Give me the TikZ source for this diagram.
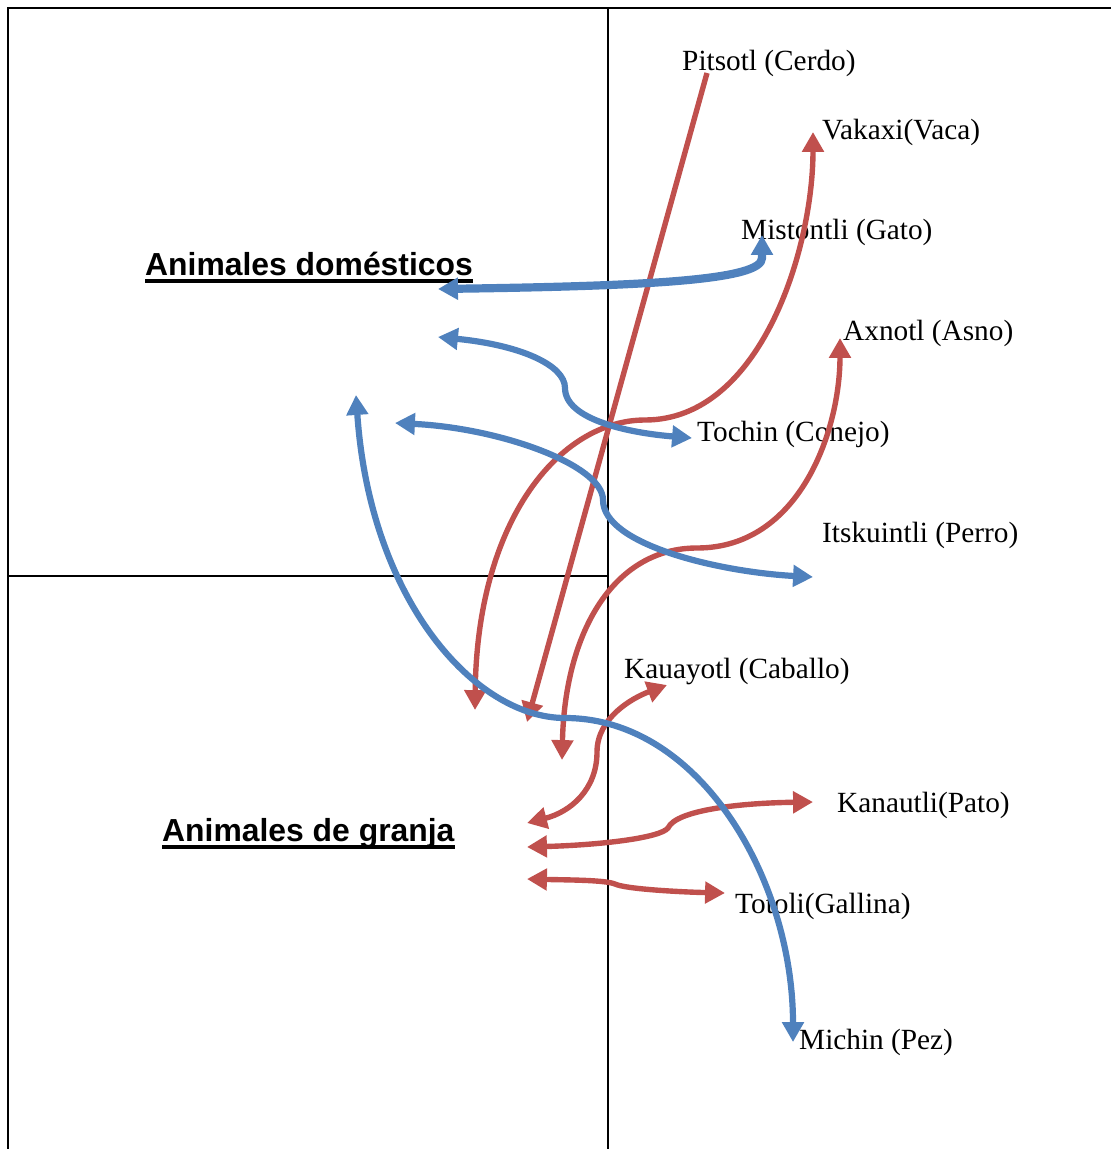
\documentclass[tikz,border=0pt]{standalone}
\usepackage{fontspec}
\setmainfont{Liberation Serif}
\newfontfamily\headfont{Liberation Sans}
\usetikzlibrary{arrows.meta}

\definecolor{farmred}{HTML}{C0504D}
\definecolor{homeblue}{HTML}{4F81BD}

\tikzset{
	lbl/.style={anchor=base west, inner sep=0pt, font=\fontsize{25pt}{30pt}\selectfont},
	head/.style={anchor=base west, inner sep=0pt, font=\headfont\bfseries\fontsize{27.2pt}{32pt}\selectfont},
	uline/.style={line width=3.4pt},
	grid/.style={line width=1.7pt},
	redarr/.style={draw=farmred, line width=4.6pt},
	bluearr/.style={draw=homeblue, line width=5.3pt}
}

\begin{document}
\begin{tikzpicture}
	[x=0.03cm,y=-0.03cm,>={Triangle[length=17pt,width=18pt]}]
	\useasboundingbox (0,0) rectangle (1111,1149);
	
	% table lines
	\draw[grid] (8,1149) -- (8,8) -- (1111,8);
	\draw[grid] (608,8) -- (608,1149);
	\draw[grid] (8,576) -- (608,576);
	
	\node[head] (dom) at (145,275) {Animales domésticos};
	\node[head] (granja) at (162,841) {Animales de granja};
	\foreach \h in {dom,granja}
		\draw[uline] ([yshift=-5pt]\h.base west) -- ([yshift=-5pt]\h.base east);
	
	\foreach \name/\x/\y/\txt in {cerdo/682/70/Pitsotl (Cerdo), vaca/822/139/Vakaxi(Vaca),
		gato/741/239/Mistontli (Gato), asno/843/340/Axnotl (Asno), conejo/697/441/Tochin (Conejo),
		perro/822/542/Itskuintli (Perro), caballo/624/678/Kauayotl (Caballo),
		pato/837/812/Kanautli(Pato), gallina/735/913/Totoli(Gallina), pez/799/1049/Michin (Pez)}
		\node[lbl] (\name) at (\x,\y) {\txt};
	
	% arrow ends
	\coordinate (cerdo1) at (707,73);   \coordinate (cerdo2) at (527,722);
	\coordinate (vaca1) at (813,132);   \coordinate (vaca2) at (475,710);
	\coordinate (asno1) at (840,338);   \coordinate (asno2) at (562,760);
	\coordinate (caballo1) at (667,685); \coordinate (caballo2) at (527,823);
	\coordinate (pato1) at (813,802);   \coordinate (pato2) at (527,847);
	\coordinate (gallina1) at (725,893); \coordinate (gallina2) at (527,879);
	\coordinate (gato1) at (762,235);   \coordinate (gato2) at (438,289);
	\coordinate (conejo1) at (692,438); \coordinate (conejo2) at (438,337);
	\coordinate (perro1) at (813,577);  \coordinate (perro2) at (395,423);
	\coordinate (pez1) at (793,1042);   \coordinate (pez2) at (356,395);
	
	% farm animals
	\draw[redarr,->] (cerdo1) -- (cerdo2);
	\draw[redarr,<->] (vaca2) .. controls (477,520) and (560,420) .. (645,420)
		.. controls (760,420) and (813,250) .. (vaca1);
	\draw[redarr,<->] (asno2) .. controls (565,630) and (615,548) .. (697,548)
		.. controls (800,548) and (840,430) .. (asno1);
	\draw[redarr,<->] (caballo2) .. controls (570,812) and (597,790) .. (597,752)
		.. controls (597,718) and (632,698) .. (caballo1);
	\draw[redarr,<->] (pato2) .. controls (600,845) and (660,838) .. (668,828)
		.. controls (676,810) and (740,803) .. (pato1);
	\draw[redarr,<->] (gallina2) .. controls (570,880) and (605,880) .. (615,884)
		.. controls (625,889) and (680,892) .. (gallina1);
	
	% pets
	\draw[bluearr,line width=7pt,<->] (gato2) .. controls (650,286) and (762,280) .. (762,258) -- (gato1);
	\draw[bluearr,<->] (conejo2) .. controls (520,345) and (565,365) .. (565,388)
		.. controls (565,420) and (630,433) .. (conejo1);
	\draw[bluearr,<->] (perro2) .. controls (500,428) and (603,465) .. (603,500)
		.. controls (603,545) and (720,572) .. (perro1);
	\draw[bluearr,<->] (pez2) .. controls (370,600) and (475,718) .. (565,718)
		.. controls (700,718) and (793,880) .. (pez1);
\end{tikzpicture}
\end{document}
